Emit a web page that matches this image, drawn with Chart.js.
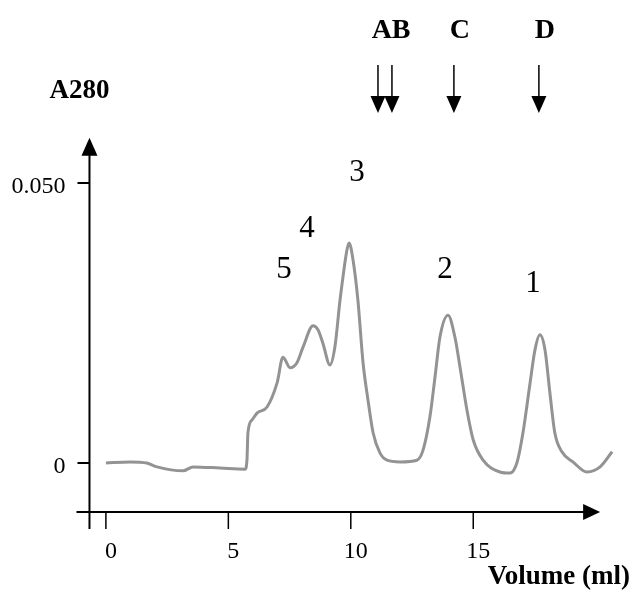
<!DOCTYPE html>
<html>
<head>
<meta charset="utf-8">
<script src="https://cdn.jsdelivr.net/npm/chart.js@4"></script>
<style>
  html, body { margin: 0; padding: 0; background: #fff; }
  #wrap { width: 634px; height: 590px; position: relative; }
</style>
</head>
<body>
<div id="wrap"><canvas id="chart"></canvas></div>
<script>
// elution profile (volume in ml, A280)
const volumes = [0.00, 0.98, 1.67, 2.09, 3.15, 3.56, 4.66, 5.68, 5.76, 5.80, 5.97, 6.17, 6.58, 6.99,
  7.23, 7.52, 7.80, 8.05, 8.46, 8.66, 8.86, 9.15, 9.35, 9.56, 9.68, 9.84, 9.93, 10.09, 10.29,
  10.50, 10.70, 10.91, 11.19, 11.48, 12.01, 12.70, 12.95, 13.23, 13.44, 13.64, 13.97, 14.25,
  14.46, 14.74, 15.00, 15.40, 16.09, 16.50, 16.78, 17.03, 17.32, 17.52, 17.72, 17.93, 18.13,
  18.33, 18.62, 19.07, 19.64, 20.18, 20.67];
const absorbance = [0.0000, 0.0002, 0.0000, -0.0007, -0.0014, -0.0007, -0.0009, -0.0011, 0.0005,
  0.0054, 0.0077, 0.0089, 0.0100, 0.0143, 0.0189, 0.0170, 0.0179, 0.0207, 0.0245, 0.0238,
  0.0214, 0.0175, 0.0207, 0.0291, 0.0332, 0.0380, 0.0393, 0.0363, 0.0291, 0.0179, 0.0113,
  0.0054, 0.0018, 0.0005, 0.0002, 0.0005, 0.0023, 0.0082, 0.0154, 0.0225, 0.0264, 0.0225,
  0.0171, 0.0095, 0.0041, 0.0005, -0.0016, -0.0018, 0.0000, 0.0054, 0.0143, 0.0202, 0.0229,
  0.0202, 0.0125, 0.0054, 0.0020, 0.0002, -0.0016, -0.0007, 0.0020];

const xTicks = [0, 5, 10, 15];
const yTicks = [0, 0.05];
const yTickLabels = ['0', '0.050'];

// peak numbers, anchored in data units
const peakLabels = ['5', '4', '3', '2', '1'];
const peakLabelVolumes = [7.27, 8.21, 10.25, 13.85, 17.44];
const peakLabelValues = [0.0345, 0.0418, 0.0518, 0.0345, 0.0320];

// calibration markers (arrows on top)
const markerVolumes = [11.11, 11.68, 14.21, 17.68];
const markerLabels = ['AB', 'C', 'D'];
const markerLabelVolumes = [11.40, 14.21, 17.68];

const points = volumes.map((v, i) => ({ x: v, y: absorbance[i] }));

function arrowHead(ctx, tipX, tipY, dir, len, half) {
    ctx.beginPath();
    if (dir === 'up') {
        ctx.moveTo(tipX, tipY);
        ctx.lineTo(tipX - half, tipY + len);
        ctx.lineTo(tipX + half, tipY + len);
    } else if (dir === 'down') {
        ctx.moveTo(tipX, tipY);
        ctx.lineTo(tipX - half, tipY - len);
        ctx.lineTo(tipX + half, tipY - len);
    } else {
        ctx.moveTo(tipX, tipY);
        ctx.lineTo(tipX - len, tipY - half);
        ctx.lineTo(tipX - len, tipY + half);
    }
    ctx.closePath();
    ctx.fill();
}

const axesPlugin = {
    id: 'sketchAxes',
    afterDatasetsDraw(chart) {
        const { ctx, scales: { x, y } } = chart;
        const axisX = x.getPixelForValue(-0.67);
        const axisY = y.getPixelForValue(y.min);
        const xEnd = x.getPixelForValue(20.18);
        const yTop = y.getPixelForValue(0.0581);

        ctx.save();
        ctx.strokeStyle = '#000';
        ctx.fillStyle = '#000';
        ctx.lineWidth = 2;

        // x axis
        ctx.beginPath();
        ctx.moveTo(x.left, axisY);
        ctx.lineTo(xEnd - 14, axisY);
        ctx.stroke();
        arrowHead(ctx, xEnd, axisY, 'right', 17, 8);

        // y axis
        ctx.beginPath();
        ctx.moveTo(axisX, axisY + 17);
        ctx.lineTo(axisX, yTop + 14);
        ctx.stroke();
        arrowHead(ctx, axisX, yTop, 'up', 18, 8);

        // x ticks + labels
        ctx.font = '24px "Liberation Serif", "Times New Roman", serif';
        ctx.textAlign = 'center';
        ctx.textBaseline = 'alphabetic';
        xTicks.forEach(t => {
            const px = x.getPixelForValue(t);
            ctx.lineWidth = 1.5;
            ctx.beginPath();
            ctx.moveTo(px, axisY);
            ctx.lineTo(px, axisY + 17);
            ctx.stroke();
            ctx.fillText(String(t), px + 5, axisY + 46);
        });

        // y ticks + labels
        ctx.textAlign = 'right';
        yTicks.forEach((t, i) => {
            const py = y.getPixelForValue(t);
            ctx.lineWidth = 2;
            ctx.beginPath();
            ctx.moveTo(axisX - 12, py);
            ctx.lineTo(axisX, py);
            ctx.stroke();
            ctx.fillText(yTickLabels[i], axisX - 24, py + 10);
        });

        // axis titles
        ctx.font = 'bold 27px "Liberation Serif", "Times New Roman", serif';
        ctx.textAlign = 'center';
        ctx.fillText('A280', axisX - 10, 98);
        ctx.textAlign = 'right';
        ctx.fillText('Volume (ml)', 630, 584);

        // peak numbers
        ctx.font = '31px "Liberation Serif", "Times New Roman", serif';
        ctx.textAlign = 'center';
        ctx.textBaseline = 'middle';
        peakLabels.forEach((lab, i) => {
            ctx.fillText(lab, x.getPixelForValue(peakLabelVolumes[i]), y.getPixelForValue(peakLabelValues[i]));
        });

        // marker arrows
        ctx.lineWidth = 1.5;
        markerVolumes.forEach(v => {
            const px = x.getPixelForValue(v);
            ctx.beginPath();
            ctx.moveTo(px, 65);
            ctx.lineTo(px, 100);
            ctx.stroke();
            arrowHead(ctx, px, 113, 'down', 17, 7.5);
        });
        ctx.font = 'bold 28px "Liberation Serif", "Times New Roman", serif';
        ctx.textBaseline = 'alphabetic';
        markerLabels.forEach((lab, i) => {
            ctx.fillText(lab, x.getPixelForValue(markerLabelVolumes[i]) + 6, 38);
        });

        ctx.restore();
    }
};

new Chart(document.getElementById('chart'), {
    type: 'line',
    data: {
        datasets: [{
            data: points,
            borderColor: '#939393',
            borderWidth: 3,
            pointRadius: 0,
            cubicInterpolationMode: 'monotone',
            fill: false
        }]
    },
    options: {
        responsive: true,
        maintainAspectRatio: false,
        animation: false,
        layout: { padding: { left: 76.5, right: 13.8, top: 127, bottom: 78 } },
        plugins: { legend: { display: false }, tooltip: { enabled: false } },
        scales: {
            x: { type: 'linear', min: -1.2, max: 21.0, display: false },
            y: { type: 'linear', min: -0.00875, max: 0.06, display: false }
        }
    },
    plugins: [axesPlugin]
});
</script>
</body>
</html>
